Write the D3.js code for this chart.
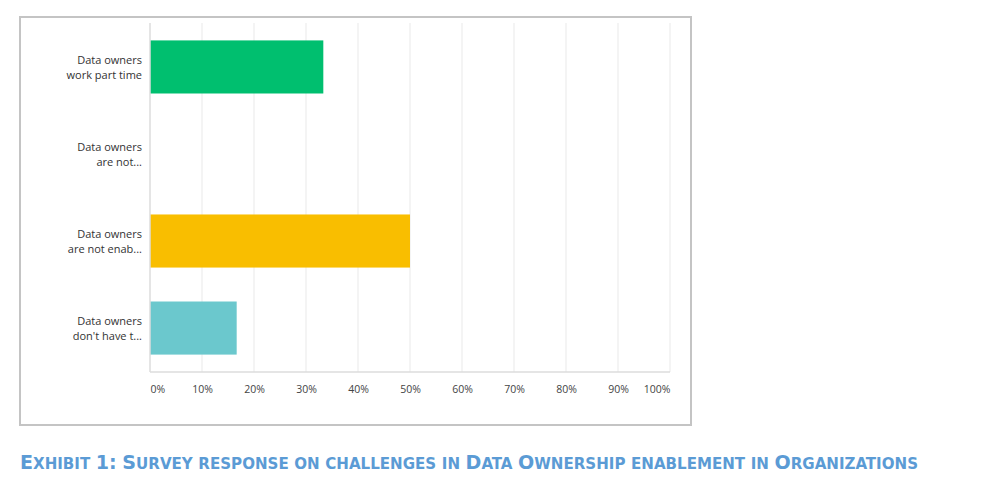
<!DOCTYPE html>
<html>
<head>
<meta charset="utf-8">
<script src="https://cdn.jsdelivr.net/npm/d3@7"></script>
<style>
  html, body { margin: 0; padding: 0; background: #fff; }
  svg { display: block; }
</style>
</head>
<body>
<svg id="chart" width="990" height="497"></svg>
<script>
const categories = ['part', 'notA', 'notEnab', 'dontHave'];
const labelLines = [
  ['Data owners', 'work part time'],
  ['Data owners', 'are not...'],
  ['Data owners', 'are not enab...'],
  ["Data owners", "don't have t..."],
];
const values = [33.33, 0, 50, 16.67];
const colors = ['#00bf6f', '#f9be00', '#f9be00', '#6bc8cd'];
const tickValues = [0, 10, 20, 30, 40, 50, 60, 70, 80, 90, 100];
const caption = 'Exhibit 1: Survey response on challenges in Data Ownership enablement in Organizations';

const svg = d3.select('#chart');

// outer frame
svg.append('rect')
  .attr('x', 20).attr('y', 17)
  .attr('width', 671).attr('height', 408)
  .attr('fill', '#fff')
  .attr('stroke', '#c4c4c4')
  .attr('stroke-width', 2);

const x = d3.scaleLinear().domain([0, 100]).range([150, 670]);
const y = d3.scaleBand().domain(categories).range([23, 372])
  .paddingInner(0.39).paddingOuter(0.2);

// grid lines
svg.append('g')
  .selectAll('line')
  .data(tickValues.slice(1))
  .enter()
  .append('line')
  .attr('x1', d => x(d)).attr('x2', d => x(d))
  .attr('y1', 23).attr('y2', 372)
  .attr('stroke', '#f0f0f0')
  .attr('stroke-width', 1.5);

// bars
svg.append('g')
  .selectAll('rect')
  .data(values)
  .enter()
  .append('rect')
  .attr('x', x(0))
  .attr('y', (d, i) => y(categories[i]))
  .attr('width', d => x(d) - x(0))
  .attr('height', y.bandwidth())
  .attr('fill', (d, i) => colors[i]);

// axis lines
svg.append('line')
  .attr('x1', x(0)).attr('x2', x(0))
  .attr('y1', 23).attr('y2', 372)
  .attr('stroke', '#dcdcdc').attr('stroke-width', 1.5);
svg.append('line')
  .attr('x1', x(0)).attr('x2', x(100))
  .attr('y1', 372).attr('y2', 372)
  .attr('stroke', '#dcdcdc').attr('stroke-width', 1.5);

// x tick labels
const xAxis = d3.axisBottom(x).tickValues(tickValues)
  .tickFormat(d => d + '%').tickSize(0).tickPadding(0);
const gx = svg.append('g').attr('transform', 'translate(0,386)').call(xAxis);
gx.select('.domain').remove();
gx.selectAll('text')
  .attr('font-family', '"Open Sans", sans-serif')
  .attr('font-size', 10.5)
  .attr('fill', '#444')
  .attr('text-anchor', (d, i) => i === 0 ? 'start' : (i === tickValues.length - 1 ? 'end' : 'middle'));

// y labels
const gy = svg.append('g');
categories.forEach((c, i) => {
  const cy = y(c) + y.bandwidth() / 2;
  const t = gy.append('text')
    .attr('text-anchor', 'end')
    .attr('font-family', '"Open Sans", sans-serif')
    .attr('font-size', 11)
    .attr('fill', '#333');
  labelLines[i].forEach((line, j) => {
    t.append('tspan')
      .attr('x', 142)
      .attr('y', cy - 3 + j * 15)
      .text(line);
  });
});

// caption in small caps
const cap = svg.append('text')
  .attr('x', 20).attr('y', 469)
  .attr('font-family', '"DejaVu Sans Condensed", "DejaVu Sans", sans-serif')
  .attr('font-stretch', 'condensed')
  .attr('font-weight', 'bold')
  .attr('fill', '#5b9bd5')
  .attr('textLength', 898)
  .attr('lengthAdjust', 'spacingAndGlyphs');
caption.split('').forEach(ch => {
  const upper = ch === ch.toUpperCase() && ch !== ch.toLowerCase();
  const other = ch === ch.toLowerCase() && ch === ch.toUpperCase();
  cap.append('tspan')
    .attr('font-size', upper || (other && ch !== ' ') ? 19 : (ch === ' ' ? 16 : 15))
    .text(ch.toUpperCase());
});
</script>
</body>
</html>
